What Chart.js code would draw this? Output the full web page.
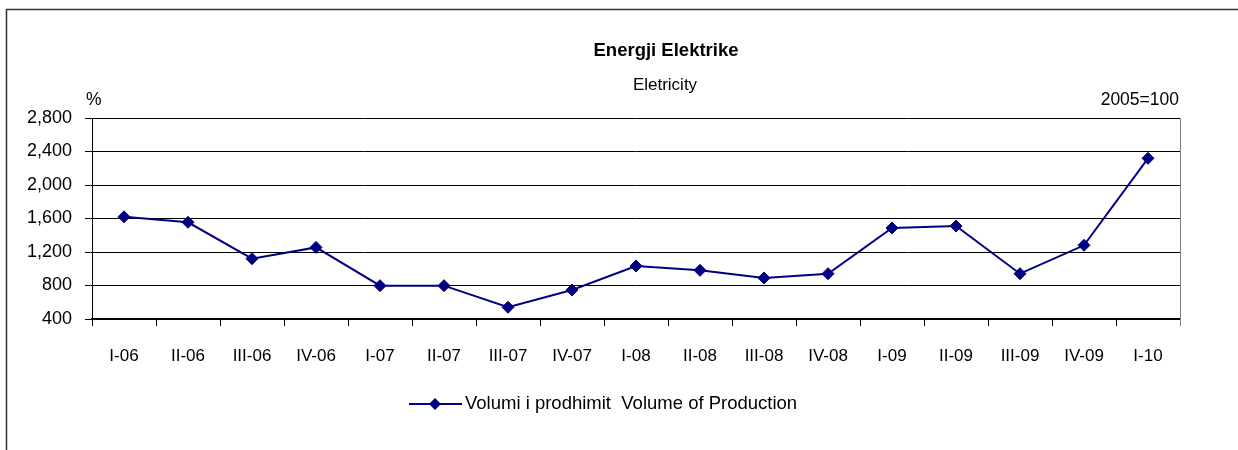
<!DOCTYPE html>
<html>
<head>
<meta charset="utf-8">
<script src="https://cdn.jsdelivr.net/npm/chart.js@4"></script>
<style>
  body { margin: 0; background: #fff; }
  canvas { display: block; }
</style>
</head>
<body>
<canvas id="energyChart" width="1238" height="450"></canvas>
<script>
// quarters on the x axis
const quarters = ['I-06', 'II-06', 'III-06', 'IV-06', 'I-07', 'II-07', 'III-07', 'IV-07',
    'I-08', 'II-08', 'III-08', 'IV-08', 'I-09', 'II-09', 'III-09', 'IV-09', 'I-10'];

// volume of production index, 2005=100
const productionValues = [1620, 1555, 1120, 1255, 798, 798, 540, 746,
    1033, 981, 890, 941, 1487, 1510, 941, 1280, 2319];

const yTicks = [400, 800, 1200, 1600, 2000, 2400, 2800];

const titleText = 'Energji Elektrike';
const subtitleText = 'Eletricity';
const seriesName = 'Volumi i prodhimit  Volume of Production';

const navy = '#000080';
const fontFamily = '"Liberation Sans", Arial, sans-serif';

// frame, titles, unit labels and the legend
const extrasPlugin = {
    id: 'extras',
    afterDraw(chart) {
        const ctx = chart.ctx;
        const area = chart.chartArea;
        ctx.save();

        // outer frame (top and left only)
        ctx.strokeStyle = '#333';
        ctx.lineWidth = 1.5;
        ctx.beginPath();
        ctx.moveTo(6.5, 450);
        ctx.lineTo(6.5, 9.5);
        ctx.lineTo(1238, 9.5);
        ctx.stroke();

        // right border of plot
        ctx.strokeStyle = '#808080';
        ctx.lineWidth = 1;
        ctx.beginPath();
        ctx.moveTo(area.right + 0.5, area.top);
        ctx.lineTo(area.right + 0.5, area.bottom + 7);
        ctx.stroke();

        ctx.fillStyle = '#000';
        ctx.textBaseline = 'middle';
        ctx.textAlign = 'center';
        ctx.font = 'bold 18.5px ' + fontFamily;
        ctx.fillText(titleText, 666, 51);
        ctx.font = '17px ' + fontFamily;
        ctx.fillText(subtitleText, 665, 85);

        ctx.font = '17.5px ' + fontFamily;
        ctx.textAlign = 'left';
        ctx.fillText('%', 86, 100);
        ctx.textAlign = 'right';
        ctx.fillText('2005=100', 1179, 100);

        // legend
        const ds = chart.data.datasets[0];
        const ly = 404;
        ctx.strokeStyle = ds.borderColor;
        ctx.lineWidth = 2;
        ctx.beginPath();
        ctx.moveTo(409, ly);
        ctx.lineTo(462, ly);
        ctx.stroke();
        ctx.fillStyle = ds.pointBackgroundColor;
        ctx.beginPath();
        ctx.moveTo(435 - 6, ly);
        ctx.lineTo(435, ly - 6);
        ctx.lineTo(435 + 6, ly);
        ctx.lineTo(435, ly + 6);
        ctx.closePath();
        ctx.fill();

        ctx.fillStyle = '#000';
        ctx.textAlign = 'left';
        ctx.font = '18.5px ' + fontFamily;
        ctx.fillText(ds.label, 465, ly);

        ctx.restore();
    }
};

new Chart(document.getElementById('energyChart'), {
    type: 'line',
    data: {
        labels: quarters,
        datasets: [{
            label: seriesName,
            data: productionValues,
            borderColor: navy,
            borderWidth: 2,
            pointStyle: 'rectRot',
            pointRadius: 6,
            pointBackgroundColor: navy,
            pointBorderColor: navy,
            pointBorderWidth: 1,
            tension: 0
        }]
    },
    options: {
        responsive: false,
        animation: false,
        layout: {
            padding: { left: 0, top: 118, right: 58, bottom: 0 }
        },
        plugins: {
            legend: { display: false },
            title: { display: false },
            tooltip: { enabled: false }
        },
        scales: {
            x: {
                offset: true,
                grid: {
                    offset: true,
                    drawOnChartArea: false,
                    drawTicks: true,
                    tickLength: 7,
                    color: '#000'
                },
                border: { color: '#000', width: 2 },
                ticks: {
                    color: '#000',
                    font: { family: fontFamily, size: 17 },
                    padding: 20,
                    maxRotation: 0,
                    autoSkip: false
                },
                afterFit: (scale) => { scale.height = 131; }
            },
            y: {
                min: 400,
                max: 2800,
                afterBuildTicks: (scale) => {
                    scale.ticks = yTicks.map(v => ({ value: v }));
                },
                grid: {
                    color: '#000',
                    tickLength: 7,
                    drawTicks: true
                },
                border: { color: '#000', width: 1 },
                ticks: {
                    color: '#000',
                    font: { family: fontFamily, size: 18 },
                    padding: 13,
                    callback: (v) => v.toLocaleString('en-US')
                },
                afterFit: (scale) => { scale.width = 92; }
            }
        }
    },
    plugins: [extrasPlugin]
});
</script>
</body>
</html>
